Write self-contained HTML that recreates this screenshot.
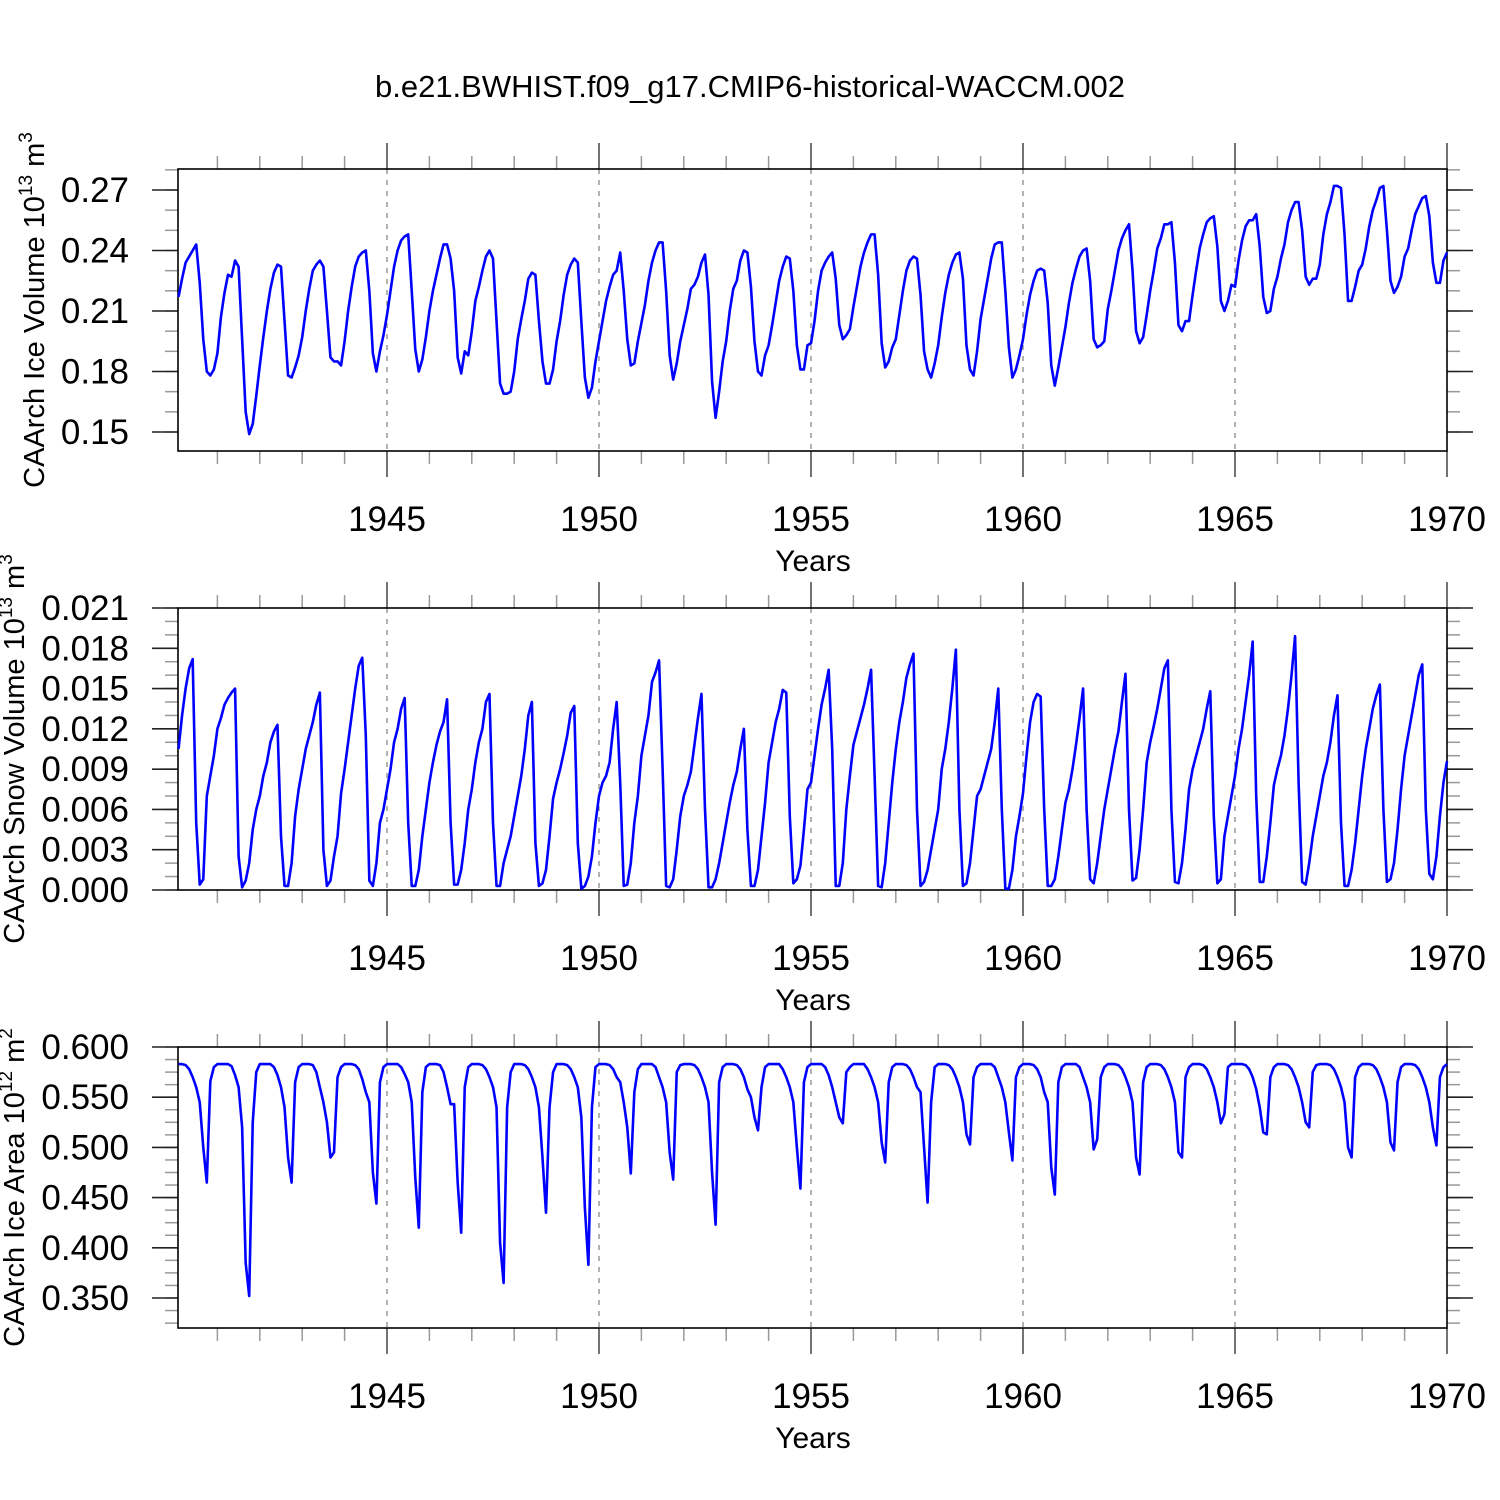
<!DOCTYPE html>
<html><head><meta charset="utf-8"><style>
html,body{margin:0;padding:0;background:#fff;}
svg{display:block;font-family:"Liberation Sans",Arial,sans-serif;}
</style></head><body>
<svg id="chart" width="1500" height="1500" viewBox="0 0 1500 1500" xmlns="http://www.w3.org/2000/svg">
<rect width="1500" height="1500" fill="#fff"/>
<text x="750" y="97" font-size="31" text-anchor="middle">b.e21.BWHIST.f09_g17.CMIP6-historical-WACCM.002</text>
</svg>
<script>
const yearTicks = [1945, 1950, 1955, 1960, 1965, 1970];
const iceVolume = [].concat(
[0.217,0.226,0.234,0.237,0.240,0.243,0.224,0.196,0.180,0.178,0.181,0.189],
[0.207,0.219,0.228,0.227,0.235,0.232,0.196,0.160,0.149,0.154,0.168,0.183],
[0.197,0.210,0.221,0.229,0.233,0.232,0.205,0.178,0.177,0.182,0.188,0.197],
[0.210,0.221,0.230,0.233,0.235,0.232,0.210,0.187,0.185,0.185,0.183,0.195],
[0.210,0.222,0.232,0.237,0.239,0.240,0.220,0.189,0.180,0.190,0.198,0.208],
[0.220,0.232,0.240,0.245,0.247,0.248,0.220,0.191,0.180,0.186,0.197,0.210],
[0.220,0.228,0.236,0.243,0.243,0.236,0.220,0.187,0.179,0.190,0.188,0.200],
[0.215,0.222,0.230,0.237,0.240,0.236,0.205,0.174,0.169,0.169,0.170,0.180],
[0.196,0.206,0.215,0.226,0.229,0.228,0.205,0.185,0.174,0.174,0.181,0.195],
[0.205,0.218,0.228,0.233,0.236,0.234,0.205,0.177,0.167,0.172,0.185,0.195],
[0.205,0.215,0.222,0.228,0.230,0.239,0.220,0.196,0.183,0.184,0.195,0.204],
[0.213,0.225,0.234,0.240,0.244,0.244,0.220,0.188,0.176,0.184,0.195,0.203],
[0.211,0.221,0.223,0.227,0.234,0.238,0.218,0.175,0.157,0.170,0.185,0.195],
[0.210,0.221,0.225,0.235,0.240,0.239,0.222,0.195,0.180,0.178,0.188,0.193],
[0.203,0.214,0.225,0.232,0.237,0.236,0.220,0.193,0.181,0.181,0.193,0.194],
[0.205,0.220,0.230,0.234,0.237,0.239,0.226,0.203,0.196,0.198,0.201,0.212],
[0.222,0.232,0.239,0.244,0.248,0.248,0.228,0.194,0.182,0.185,0.192,0.196],
[0.208,0.220,0.230,0.235,0.237,0.236,0.218,0.190,0.181,0.177,0.184,0.193],
[0.207,0.219,0.228,0.234,0.238,0.239,0.226,0.193,0.181,0.178,0.190,0.206],
[0.216,0.226,0.236,0.243,0.244,0.244,0.220,0.192,0.177,0.181,0.188,0.196],
[0.208,0.218,0.225,0.230,0.231,0.230,0.214,0.183,0.173,0.182,0.192,0.202],
[0.214,0.224,0.231,0.237,0.240,0.241,0.225,0.196,0.192,0.193,0.195,0.211],
[0.220,0.230,0.240,0.246,0.250,0.253,0.230,0.200,0.194,0.197,0.208,0.220],
[0.230,0.241,0.246,0.253,0.253,0.254,0.234,0.203,0.200,0.205,0.205,0.218],
[0.230,0.241,0.248,0.254,0.256,0.257,0.242,0.215,0.210,0.215,0.223,0.222],
[0.235,0.245,0.252,0.255,0.255,0.258,0.242,0.217,0.209,0.210,0.221,0.227],
[0.236,0.243,0.254,0.260,0.264,0.264,0.250,0.227,0.223,0.226,0.226,0.233],
[0.248,0.258,0.264,0.272,0.272,0.271,0.248,0.215,0.215,0.222,0.230,0.233],
[0.241,0.252,0.260,0.265,0.271,0.272,0.250,0.225,0.219,0.222,0.227,0.237],
[0.241,0.250,0.258,0.262,0.266,0.267,0.257,0.234,0.224,0.224,0.235,0.239]);
const snowVolume = [].concat(
[0.0105,0.0130,0.0150,0.0165,0.0172,0.0050,0.0004,0.0008,0.0070,0.0085,0.0100,0.0120],
[0.0128,0.0138,0.0143,0.0147,0.0150,0.0025,0.0002,0.0007,0.0020,0.0045,0.0060,0.0070],
[0.0085,0.0095,0.0110,0.0118,0.0123,0.0040,0.0003,0.0003,0.0020,0.0055,0.0075,0.0090],
[0.0105,0.0115,0.0125,0.0138,0.0147,0.0030,0.0003,0.0007,0.0025,0.0040,0.0072,0.0090],
[0.0110,0.0130,0.0150,0.0167,0.0173,0.0115,0.0007,0.0003,0.0020,0.0050,0.0060,0.0075],
[0.0090,0.0110,0.0120,0.0135,0.0143,0.0050,0.0003,0.0003,0.0015,0.0040,0.0060,0.0080],
[0.0095,0.0108,0.0118,0.0125,0.0142,0.0050,0.0004,0.0004,0.0015,0.0035,0.0060,0.0075],
[0.0095,0.0110,0.0120,0.0140,0.0146,0.0050,0.0003,0.0003,0.0020,0.0030,0.0040,0.0055],
[0.0070,0.0085,0.0105,0.0130,0.0140,0.0035,0.0003,0.0005,0.0015,0.0040,0.0068,0.0080],
[0.0090,0.0102,0.0115,0.0132,0.0137,0.0035,0.0001,0.0003,0.0010,0.0025,0.0050,0.0070],
[0.0080,0.0085,0.0095,0.0120,0.0140,0.0080,0.0003,0.0004,0.0020,0.0050,0.0070,0.0100],
[0.0115,0.0130,0.0155,0.0162,0.0171,0.0090,0.0003,0.0002,0.0008,0.0030,0.0055,0.0070],
[0.0078,0.0088,0.0108,0.0128,0.0146,0.0060,0.0002,0.0002,0.0008,0.0020,0.0035,0.0050],
[0.0065,0.0078,0.0088,0.0105,0.0120,0.0045,0.0003,0.0003,0.0015,0.0040,0.0065,0.0095],
[0.0110,0.0125,0.0135,0.0149,0.0147,0.0055,0.0005,0.0008,0.0018,0.0045,0.0075,0.0080],
[0.0100,0.0120,0.0138,0.0150,0.0164,0.0105,0.0003,0.0003,0.0020,0.0060,0.0085,0.0108],
[0.0118,0.0128,0.0138,0.0150,0.0164,0.0085,0.0003,0.0002,0.0020,0.0050,0.0080,0.0105],
[0.0125,0.0140,0.0158,0.0168,0.0176,0.0060,0.0003,0.0006,0.0015,0.0030,0.0045,0.0060],
[0.0090,0.0105,0.0125,0.0150,0.0179,0.0060,0.0003,0.0005,0.0020,0.0045,0.0070,0.0075],
[0.0085,0.0095,0.0105,0.0125,0.0150,0.0060,0.0001,0.0001,0.0015,0.0040,0.0055,0.0072],
[0.0100,0.0125,0.0140,0.0146,0.0144,0.0060,0.0003,0.0003,0.0008,0.0025,0.0045,0.0065],
[0.0075,0.0090,0.0108,0.0128,0.0150,0.0060,0.0008,0.0005,0.0020,0.0040,0.0060,0.0075],
[0.0090,0.0105,0.0118,0.0140,0.0161,0.0060,0.0007,0.0009,0.0030,0.0060,0.0095,0.0110],
[0.0122,0.0135,0.0150,0.0165,0.0171,0.0060,0.0006,0.0005,0.0020,0.0045,0.0075,0.0090],
[0.0100,0.0110,0.0120,0.0135,0.0148,0.0055,0.0005,0.0008,0.0040,0.0055,0.0070,0.0085],
[0.0105,0.0120,0.0140,0.0160,0.0185,0.0070,0.0006,0.0006,0.0025,0.0050,0.0078,0.0090],
[0.0100,0.0115,0.0135,0.0160,0.0189,0.0080,0.0006,0.0004,0.0020,0.0040,0.0055,0.0070],
[0.0085,0.0095,0.0110,0.0130,0.0145,0.0050,0.0003,0.0003,0.0015,0.0035,0.0060,0.0085],
[0.0105,0.0120,0.0135,0.0145,0.0153,0.0060,0.0006,0.0008,0.0020,0.0045,0.0075,0.0100],
[0.0115,0.0130,0.0145,0.0160,0.0168,0.0060,0.0012,0.0008,0.0025,0.0055,0.0080,0.0096]);
const iceArea = [].concat(
[0.583,0.583,0.582,0.578,0.570,0.560,0.545,0.500,0.465,0.566,0.580,0.583],
[0.583,0.583,0.583,0.581,0.572,0.560,0.520,0.385,0.352,0.525,0.575,0.583],
[0.583,0.583,0.583,0.580,0.572,0.560,0.540,0.490,0.465,0.565,0.580,0.583],
[0.583,0.583,0.582,0.575,0.560,0.545,0.525,0.490,0.495,0.570,0.580,0.583],
[0.583,0.583,0.582,0.578,0.568,0.555,0.545,0.475,0.444,0.565,0.580,0.583],
[0.583,0.583,0.583,0.580,0.573,0.565,0.545,0.470,0.420,0.555,0.580,0.583],
[0.583,0.583,0.582,0.575,0.560,0.543,0.543,0.465,0.415,0.560,0.580,0.583],
[0.583,0.583,0.582,0.578,0.570,0.560,0.540,0.405,0.365,0.540,0.575,0.583],
[0.583,0.583,0.582,0.578,0.570,0.560,0.540,0.490,0.435,0.540,0.575,0.583],
[0.583,0.583,0.582,0.578,0.570,0.560,0.530,0.440,0.383,0.540,0.580,0.583],
[0.583,0.583,0.582,0.578,0.570,0.565,0.545,0.520,0.474,0.555,0.578,0.583],
[0.583,0.583,0.583,0.580,0.570,0.560,0.545,0.495,0.468,0.575,0.582,0.583],
[0.583,0.583,0.582,0.578,0.570,0.560,0.545,0.475,0.423,0.565,0.580,0.583],
[0.583,0.583,0.582,0.578,0.570,0.558,0.550,0.530,0.517,0.560,0.580,0.583],
[0.583,0.583,0.583,0.578,0.570,0.560,0.545,0.500,0.459,0.565,0.580,0.583],
[0.583,0.583,0.583,0.580,0.572,0.560,0.545,0.530,0.524,0.575,0.580,0.583],
[0.583,0.583,0.583,0.578,0.570,0.560,0.545,0.505,0.485,0.565,0.580,0.583],
[0.583,0.583,0.582,0.578,0.570,0.560,0.555,0.500,0.445,0.545,0.580,0.583],
[0.583,0.583,0.582,0.578,0.570,0.560,0.545,0.513,0.503,0.570,0.580,0.583],
[0.583,0.583,0.583,0.580,0.570,0.560,0.545,0.515,0.487,0.570,0.580,0.583],
[0.583,0.583,0.582,0.578,0.570,0.555,0.545,0.480,0.453,0.565,0.580,0.583],
[0.583,0.583,0.583,0.580,0.570,0.560,0.545,0.498,0.508,0.570,0.580,0.583],
[0.583,0.583,0.582,0.578,0.570,0.560,0.545,0.490,0.473,0.565,0.580,0.583],
[0.583,0.583,0.582,0.578,0.570,0.560,0.545,0.495,0.490,0.570,0.580,0.583],
[0.583,0.583,0.582,0.578,0.570,0.560,0.545,0.524,0.533,0.580,0.583,0.583],
[0.583,0.583,0.582,0.578,0.570,0.558,0.540,0.515,0.513,0.570,0.580,0.583],
[0.583,0.583,0.582,0.578,0.570,0.560,0.545,0.525,0.520,0.575,0.582,0.583],
[0.583,0.583,0.582,0.578,0.570,0.560,0.545,0.500,0.490,0.570,0.580,0.583],
[0.583,0.583,0.582,0.578,0.570,0.560,0.545,0.505,0.497,0.565,0.580,0.583],
[0.583,0.583,0.582,0.578,0.570,0.560,0.545,0.520,0.502,0.570,0.580,0.583]);
const iceVolTicks = ["0.15","0.18","0.21","0.24","0.27"];
const snowTicks = ["0.000","0.003","0.006","0.009","0.012","0.015","0.018","0.021"];
const areaTicks = ["0.350","0.400","0.450","0.500","0.550","0.600"];

const NS = "http://www.w3.org/2000/svg";
const svg = document.getElementById("chart");
const X0 = 178, X1 = 1447;
function xScale(t){ return 175 + (t - 1940) * 42.4; }
function mk(tag, attrs, parent){
  const e = document.createElementNS(NS, tag);
  for (const k in attrs) e.setAttribute(k, attrs[k]);
  (parent || svg).appendChild(e);
  return e;
}

const panels = [
  {key:"ice-volume", top:169, bot:451, vTop:0.27, yTop:190, vBot:0.15, yBot:432, minor:0.01,
   ticks:iceVolTicks, data:iceVolume, title:"CAArch Ice Volume 10", sup:"13", unit:" m", sup2:"3", tx:33},
  {key:"snow-volume", top:608, bot:890, vTop:0.021, yTop:608, vBot:0, yBot:890, minor:0.001,
   ticks:snowTicks, data:snowVolume, title:"CAArch Snow Volume 10", sup:"13", unit:" m", sup2:"3", tx:13},
  {key:"ice-area", top:1047, bot:1328, vTop:0.6, yTop:1047, vBot:0.35, yBot:1298, minor:0.0125,
   ticks:areaTicks, data:iceArea, title:"CAArch Ice Area 10", sup:"12", unit:" m", sup2:"2", tx:13}
];

panels.forEach(p => {
  const g = mk("g", {});
  
  
  const k = (p.yBot - p.yTop) / (p.vTop - p.vBot);
  const yScale = v => p.yBot - (v - p.vBot) * k;
  const vMax = p.vBot + (p.yBot - p.top) / k, vMin = p.vBot - (p.bot - p.yBot) / k;

  yearTicks.forEach(yr => {
    if (yr >= 1970) return;
    const x = xScale(yr);
    const l = mk("line", {x1:x, x2:x, y1:p.top, y2:p.bot, stroke:"#888", "stroke-width":1.3, "stroke-dasharray":"5,6"}, g);
    
    
  });
  for (let yr = 1941; yr <= 1970; yr++) {
    const x = xScale(yr), major = yr % 5 === 0, len = major ? 26 : 13;
    mk("line", {x1:x, x2:x, y1:p.top - len, y2:p.top, stroke: major ? "#444" : "#999", "stroke-width":1.5}, g);
    mk("line", {x1:x, x2:x, y1:p.bot, y2:p.bot + len, stroke: major ? "#444" : "#999", "stroke-width":1.5}, g);
  }
  const nMin = Math.ceil((vMin - 1e-9) / p.minor), nMax = Math.floor((vMax + 1e-9) / p.minor);
  for (let n = nMin; n <= nMax; n++) {
    const y = yScale(n * p.minor);
    mk("line", {x1:X0 - 13, x2:X0, y1:y, y2:y, stroke:"#999", "stroke-width":1.5}, g);
    mk("line", {x1:X1, x2:X1 + 13, y1:y, y2:y, stroke:"#999", "stroke-width":1.5}, g);
  }
  p.ticks.forEach(lbl => {
    const y = yScale(parseFloat(lbl));
    mk("line", {x1:X0 - 26, x2:X0, y1:y, y2:y, stroke:"#222", "stroke-width":1.6}, g);
    mk("line", {x1:X1, x2:X1 + 26, y1:y, y2:y, stroke:"#222", "stroke-width":1.6}, g);
    const t = mk("text", {x:129, y:y + 12, "font-size":35, "text-anchor":"end"}, g);
    t.textContent = lbl;
    
    
  });
  yearTicks.forEach(yr => {
    const t = mk("text", {x:xScale(yr), y:p.bot + 80, "font-size":35, "text-anchor":"middle"}, g);
    t.textContent = yr;
    
    
  });
  const xt = mk("text", {x:813, y:p.bot + 120, "font-size":30, "text-anchor":"middle"}, g);
  xt.textContent = "Years";
  
  
  const cy = (p.top + p.bot) / 2;
  const yt = mk("text", {x:0, y:0, "font-size":29, "text-anchor":"middle", transform:`translate(${p.tx + 11},${cy}) rotate(-90)`}, g);
  
  
  const s1 = mk("tspan", {}, yt); s1.textContent = p.title;
  const s2 = mk("tspan", {dy:-12, "font-size":19}, yt); s2.textContent = p.sup;
  const s3 = mk("tspan", {dy:12}, yt); s3.textContent = p.unit;
  const s4 = mk("tspan", {dy:-12, "font-size":19}, yt); s4.textContent = p.sup2;
  const fr = mk("rect", {x:X0, y:p.top, width:X1 - X0, height:p.bot - p.top, fill:"none", stroke:"#000", "stroke-width":1.6}, g);
  
  
  const pts = p.data.map((v, i) => xScale(1940 + (i + 1) / 12).toFixed(2) + "," + yScale(v).toFixed(2)).join(" ");
  const line = mk("polyline", {points:pts, fill:"none", stroke:"#0000ff", "stroke-width":2.6, "stroke-linejoin":"round"}, g);
  
  
});
</script>
</body></html>
